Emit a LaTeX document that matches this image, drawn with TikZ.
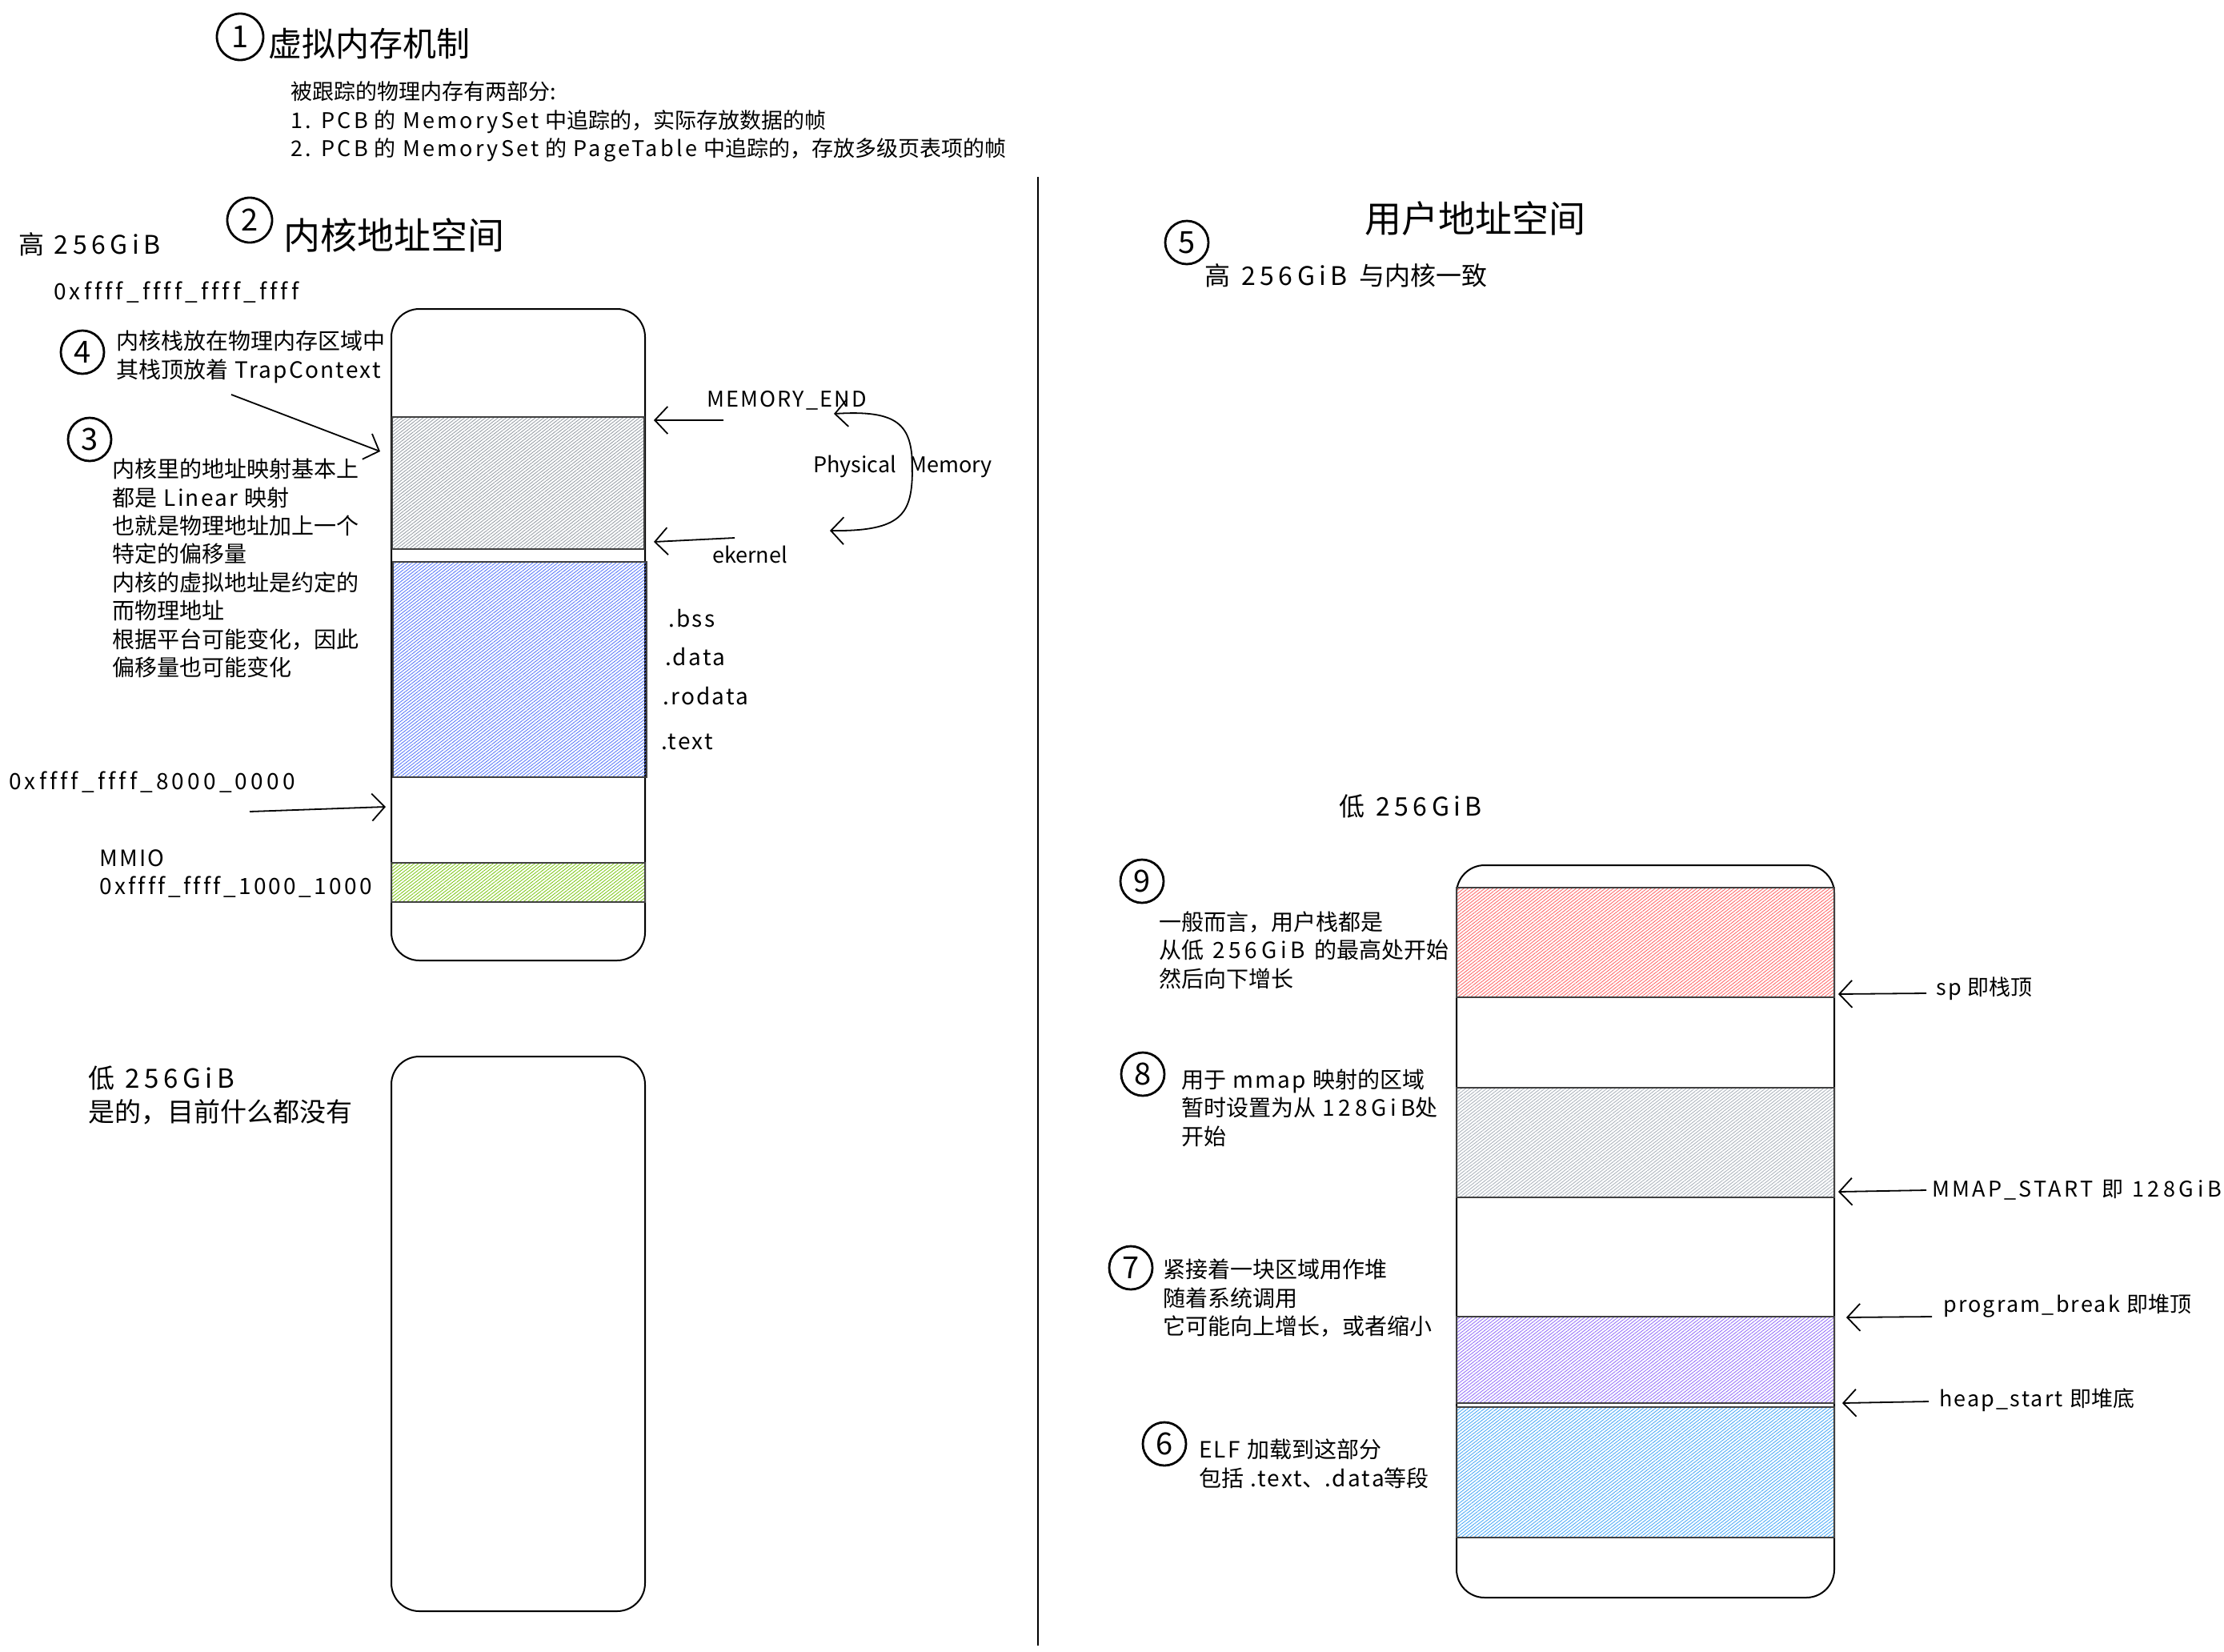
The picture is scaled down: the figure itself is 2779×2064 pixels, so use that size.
\documentclass[tikz,border=0pt]{standalone}
\usepackage{fontspec}
\setmainfont{Noto Sans CJK SC}
\newfontfamily\lw[LetterSpace=8,Ligatures=NoCommon]{Noto Sans CJK SC}
\newfontfamily\ld[LetterSpace=17,Ligatures=NoCommon]{Noto Sans CJK SC}
\newfontfamily\lx[LetterSpace=15,Ligatures=NoCommon]{Noto Sans CJK SC}
\newfontfamily\lm[LetterSpace=12,Ligatures=NoCommon]{Noto Sans CJK SC}
\newfontfamily\lplain[Ligatures=NoCommon]{Noto Sans CJK SC}
\usetikzlibrary{patterns.meta,arrows.meta}
\definecolor{kgreyc}{HTML}{9AA1A8}
\definecolor{kbluec}{HTML}{5C7CFA}
\definecolor{kgreenc}{HTML}{82C91E}
\definecolor{uredc}{HTML}{FF6B6B}
\definecolor{ugreyc}{HTML}{ADB5BD}
\definecolor{upurplec}{HTML}{9775FA}
\definecolor{ubluec}{HTML}{4DABF7}
\begin{document}
\begin{tikzpicture}[x=1pt,y=-1pt,
  txt/.style={anchor=west,inner sep=0pt,align=left,font=\fontsize{28}{35.4}\selectfont},
  big/.style={anchor=west,inner sep=0pt,align=left,font=\fontsize{33}{42}\selectfont},
  ttl/.style={anchor=west,inner sep=0pt,font=\fontsize{46}{50}\selectfont},
  num/.style={circle,draw,line width=2.8pt,minimum size=54pt,inner sep=0pt,font=\fontsize{38}{38}\selectfont},
  membox/.style={draw,line width=2pt,rounded corners=35pt,inner sep=0pt},
  region/.style={draw=black!75,line width=2.4pt,inner sep=0pt,pattern={Lines[angle=38,distance=3.2pt,line width=0.9pt]}},
  ptr/.style={-{Straight Barb[length=16pt,width=34pt]},line width=1.8pt},
  bothptr/.style={{Straight Barb[length=16pt,width=34pt]}-{Straight Barb[length=16pt,width=34pt]},line width=1.8pt}
]
\useasboundingbox[fill=white] (0,0) rectangle (2779,2064);

% divider
\draw[line width=2pt] (1297,221) -- (1297,2056);

% title
\node[num,minimum size=58pt] (n1) at (300,46) {1};
\node[ttl,font=\fontsize{42}{46}\selectfont] (t1) at (335,55) {虚拟内存机制};
\node[txt,font=\fontsize{27}{35.5}\selectfont] (intro) at (363,152) {被跟踪的物理内存有两部分:\\{\lm 1. PCB}\hspace{0.3em}的\hspace{0.3em}{\lm MemorySet}\hspace{0.3em}中追踪的，实际存放数据的帧\\{\lm 2. PCB}\hspace{0.3em}的\hspace{0.3em}{\lm MemorySet}\hspace{0.3em}的\hspace{0.3em}{\lm PageTable}\hspace{0.3em}中追踪的，存放多级页表项的帧};

% kernel space
\node[num,minimum size=56pt] (n2) at (312,275) {2};
\node[ttl] (t2) at (354,294) {内核地址空间};
\node[big,font=\fontsize{32}{40}\selectfont] (hi) at (23,305) {高\hspace{0.4em}{\ld 256GiB}};
\node[txt] (top) at (67,365) {\lx 0xffff\_ffff\_ffff\_ffff};

\node[membox,minimum width=317pt,minimum height=814pt] (kbox) at (647.5,793) {};
\node[region,pattern color=kgreyc,minimum width=315pt,minimum height=165pt] (kstack) at (647.5,603.5) {};
\node[region,pattern color=kbluec,minimum width=317pt,minimum height=269pt] (kimg) at (649.5,836.5) {};
\node[region,pattern color=kgreenc,minimum width=317pt,minimum height=49pt] (kmmio) at (647.5,1102.5) {};

\node[num] (n4) at (103,440) {4};
\node[txt] (t4) at (145,446) {内核栈放在物理内存区域中\\其栈顶放着\hspace{0.3em}{\lw TrapContext}};
\coordinate (a4s) at (289,493);
\coordinate (a4e) at (475,564);
\draw[ptr] (a4s) -- (a4e);

\node[num] (n3) at (112,549) {3};
\node[txt] (t3) at (140,710) {内核里的地址映射基本上\\都是\hspace{0.3em}{\lw Linear}\hspace{0.3em}映射\\也就是物理地址加上一个\\特定的偏移量\\内核的虚拟地址是约定的\\而物理地址\\根据平台可能变化，因此\\偏移量也可能变化};

\node[txt,font=\fontsize{27}{30}\selectfont] (memend) at (883,500) {\lw MEMORY\_END};
\coordinate (meme) at (817,525);
\coordinate (mems) at (904,525);
\draw[ptr] (mems) -- (meme);
\node[txt,font=\fontsize{27}{30}\selectfont] (ekernel) at (890,693) {\lplain ekernel};
\coordinate (eks) at (918,672);
\coordinate (eke) at (817,677);
\draw[ptr] (eks) -- (eke);
\node[txt,font=\fontsize{27}{30}\selectfont] (phys) at (1016,583) {\lplain Physical\hspace{16pt}Memory};
\coordinate (pmt) at (1042,517);
\coordinate (pmb) at (1037,663);
\draw[bothptr] (pmt) .. controls (1122,512) and (1140,530) .. (1140,585) .. controls (1140,642) and (1128,664) .. (pmb);

\node[txt] (bss) at (835,773) {\lw .bss};
\node[txt] (data) at (831,821) {\lw .data};
\node[txt] (rodata) at (828,870) {\lw .rodata};
\node[txt] (text) at (826,927) {\lw .text};

\node[txt] (kbase) at (11,977) {\lx 0xffff\_ffff\_8000\_0000};
\coordinate (kbs) at (312,1014);
\coordinate (kbe) at (482,1008);
\draw[ptr] (kbs) -- (kbe);

\node[txt] (mmio) at (124,1091.5) {\lw MMIO\\\lm 0xffff\_ffff\_1000\_1000};

\node[membox,minimum width=317pt,minimum height=693pt] (klow) at (647.5,1666.5) {};
\node[big] (lo) at (110,1368) {低\hspace{0.4em}{\ld 256GiB}\\是的，目前什么都没有};

% user space
\node[ttl] (t5) at (1705,273) {用户地址空间};
\node[num] (n5) at (1483,303) {5};
\node[big,font=\fontsize{32}{40}\selectfont] (uhi) at (1505,344) {高\hspace{0.45em}{\ld 256GiB}\hspace{0.45em}与内核一致};
\node[big,font=\fontsize{32}{40}\selectfont] (ulo) at (1673,1007) {低\hspace{0.45em}{\ld 256GiB}};

\node[membox,minimum width=472pt,minimum height=915pt] (ubox) at (2056,1538.5) {};
\node[region,pattern color=uredc,minimum width=472pt,minimum height=137pt] (ustack) at (2056,1177.5) {};
\node[region,pattern color=ugreyc,minimum width=472pt,minimum height=137pt] (ummap) at (2056,1427.5) {};
\node[region,pattern color=upurplec,minimum width=472pt,minimum height=108pt] (uheap) at (2056,1699) {};
\node[region,pattern color=ubluec,minimum width=472pt,minimum height=163pt] (uelf) at (2056,1839.5) {};

\node[num] (n9) at (1427,1101) {9};
\node[txt] (t9) at (1448,1187) {一般而言，用户栈都是\\从低\hspace{0.4em}{\ld 256GiB}\hspace{0.4em}的最高处开始\\然后向下增长};
\node[txt,font=\fontsize{27}{30}\selectfont] (sp) at (2419,1235) {{\lw sp}\hspace{0.3em}即栈顶};
\coordinate (sps) at (2407,1241);
\coordinate (spe) at (2297,1242);
\draw[ptr] (sps) -- (spe);

\node[num] (n8) at (1428,1342) {8};
\node[txt] (t8) at (1476,1384) {用于\hspace{0.3em}{\lw mmap}\hspace{0.3em}映射的区域\\暂时设置为从\hspace{0.3em}{\ld 128GiB}处\\开始};
\node[txt,font=\fontsize{27}{30}\selectfont] (mmaps) at (2414,1487) {{\lm MMAP\_START}\hspace{0.4em}即\hspace{0.4em}{\ld 128GiB}};
\coordinate (mms) at (2407,1487);
\coordinate (mme) at (2297,1489);
\draw[ptr] (mms) -- (mme);

\node[num] (n7) at (1413,1584) {7};
\node[txt] (t7) at (1453,1622) {紧接着一块区域用作堆\\随着系统调用\\它可能向上增长，或者缩小};
\node[txt,font=\fontsize{27}{30}\selectfont] (pbrk) at (2428,1632) {{\lw program\_break}\hspace{0.3em}即堆顶};
\coordinate (pbs) at (2414,1645);
\coordinate (pbe) at (2307,1646);
\draw[ptr] (pbs) -- (pbe);
\node[txt,font=\fontsize{27}{30}\selectfont] (hstart) at (2423,1749) {{\lw heap\_start}\hspace{0.3em}即堆底};
\coordinate (hss) at (2410,1751);
\coordinate (hse) at (2302,1753);
\draw[ptr] (hss) -- (hse);

\node[num] (n6) at (1455,1804) {6};
\node[txt] (t6) at (1498,1829) {{\lw ELF}\hspace{0.3em}加载到这部分\\包括\hspace{0.3em}{\lw .text}、{\lw .data}等段};
\end{tikzpicture}
\end{document}
